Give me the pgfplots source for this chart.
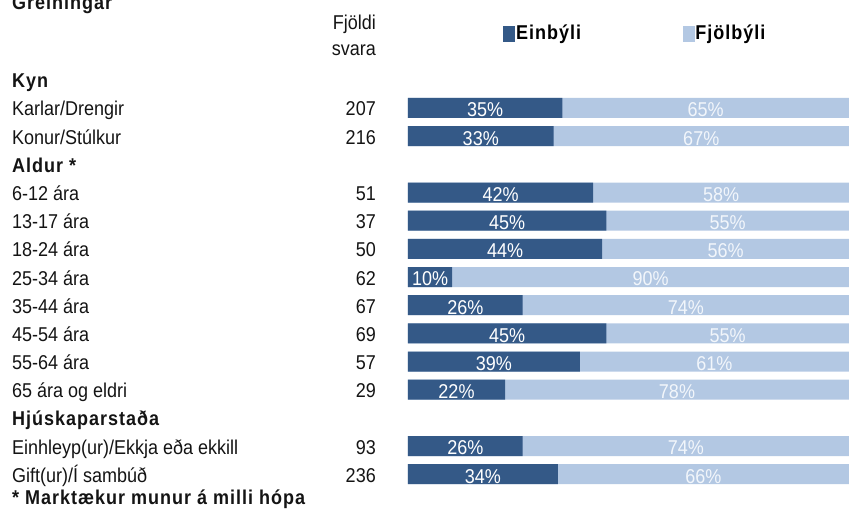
\documentclass[border=0pt]{standalone}
\usepackage{fontspec}
\setmainfont{Liberation Sans}[FakeStretch=0.9]
\newfontface\bsp{Liberation Sans Bold}[FakeStretch=0.9, LetterSpace=5]
\usepackage{pgfplots}
\usepackage{pgfplotstable}
\pgfplotsset{compat=1.18}
\definecolor{dark}{RGB}{52,89,135}
\definecolor{light}{RGB}{179,200,227}
\definecolor{txt}{RGB}{20,20,20}
\definecolor{lighttxt}{RGB}{242,246,251}

\pgfplotstableread{
row a b n
1 35 65 207
2 33 67 216
4 42 58 51
5 45 55 37
6 44 56 50
7 10 90 62
8 26 74 67
9 45 55 69
10 39 61 57
11 22 78 29
13 26 74 93
14 34 66 236
}\data

\begin{document}
\fontsize{20}{24}\selectfont
\begin{tikzpicture}[font=\fontsize{20}{24}\selectfont]
\begin{axis}[
  x=4.41pt, y=28.17pt, y dir=reverse,
  xmin=0, xmax=100, ymin=0, ymax=15,
  clip=false,
  axis line style={draw=none},
  major tick length=0pt,
  xtick=\empty,
  ytick={0,...,14},
  yticklabels={{\bsp Kyn}, Karlar/Drengir, Konur/Stúlkur, {\bsp Aldur *}, 6-12 ára, 13-17 ára, 18-24 ára, 25-34 ára, 35-44 ára, 45-54 ára, 55-64 ára, 65 ára og eldri, {\bsp Hjúskaparstaða}, Einhleyp(ur)/Ekkja eða ekkill, Gift(ur)/Í sambúð},
  yticklabel style={anchor=base west, inner sep=0pt, xshift=-396pt, yshift=-8pt, text=txt},
  /pgf/number format/assume math mode=true,
  legend columns=2,
  legend style={at={(axis cs:21.54,-1.627)}, anchor=west, draw=none, fill=none, inner sep=0pt,
    nodes={inner sep=1.5pt}, /tikz/every even column/.append style={column sep=100pt}},
]
\addlegendimage{legend image code/.code={\fill[dark] (0pt,-7.5pt) rectangle (11pt,7.5pt);}}
\addlegendentry{\bsp Einbýli}
\addlegendimage{legend image code/.code={\fill[light] (0pt,-7.5pt) rectangle (11pt,7.5pt);}}
\addlegendentry{\bsp Fjölbýli}

\addplot[forget plot, xbar, bar width=20pt, bar shift=0pt, fill=light, draw=none]
  table[x expr=\thisrow{a}+\thisrow{b}, y=row]{\data};
\addplot[forget plot, xbar, bar width=20pt, bar shift=0pt, fill=dark, draw=none]
  table[x=a, y=row]{\data};

\addplot[forget plot, draw=none, mark=none, point meta=\thisrow{a},
  nodes near coords={\pgfmathprintnumber{\pgfplotspointmeta}\%},
  nodes near coords style={anchor=center, yshift=-2pt, text=white, inner sep=0pt}]
  table[x expr=\thisrow{a}/2, y=row]{\data};
\addplot[forget plot, draw=none, mark=none, point meta=\thisrow{b},
  nodes near coords={\pgfmathprintnumber{\pgfplotspointmeta}\%},
  nodes near coords style={anchor=center, yshift=-2pt, text=lighttxt, inner sep=0pt}]
  table[x expr=\thisrow{a}+\thisrow{b}/2, y=row]{\data};
\addplot[forget plot, draw=none, mark=none, point meta=\thisrow{n},
  nodes near coords,
  nodes near coords style={anchor=base east, yshift=-8pt, text=txt, inner sep=0pt}]
  table[x expr=-7.26, y=row]{\data};

\node[anchor=base west, inner sep=0pt, text=txt] at (axis cs:-89.8,-2.514) {\bsp Greiningar};
\node[anchor=base east, inner sep=0pt, text=txt] at (axis cs:-7.26,-1.80) {Fjöldi};
\node[anchor=base east, inner sep=0pt, text=txt] at (axis cs:-7.26,-0.88) {svara};
\node[anchor=base west, inner sep=0pt, text=txt] at (axis cs:-89.8,15.092) {\bsp * Marktækur munur á milli hópa};

\coordinate (bl) at (axis cs:-92.517,15.306);
\coordinate (tr) at (axis cs:100.227,-2.834);
\end{axis}
\pgfresetboundingbox
\path[use as bounding box] (bl) rectangle (tr);
\end{tikzpicture}
\end{document}
